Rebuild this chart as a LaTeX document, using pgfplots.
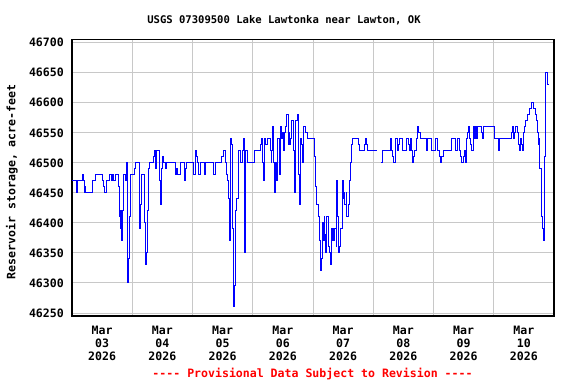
\documentclass[border=0pt]{standalone}
\usepackage{fontspec}
\newfontfamily\mono{DejaVu Sans Mono}
\usepackage{pgfplots}
\pgfplotsset{compat=1.18}
\definecolor{gridgray}{RGB}{200,200,200}
\definecolor{lineblue}{RGB}{0,0,255}
\definecolor{provred}{RGB}{255,0,0}
\newcommand{\lblfont}{\mono\bfseries\fontsize{11.6}{12.85}\selectfont}
\begin{document}
\begin{tikzpicture}[x=1bp,y=1bp]
\useasboundingbox (0,0) rectangle (576,384);
\begin{axis}[
  at={(72bp,68bp)}, anchor=south west,
  scale only axis, width=482bp, height=276.7bp,
  xmin=0, xmax=8, ymin=46245, ymax=46705.7,
  scaled y ticks=false, scaled x ticks=false,
  xtick={0.5,1.5,...,7.5},
  xticklabels={{Mar\\03\\2026},{Mar\\04\\2026},{Mar\\05\\2026},{Mar\\06\\2026},{Mar\\07\\2026},{Mar\\08\\2026},{Mar\\09\\2026},{Mar\\10\\2026}},
  minor xtick={1,2,...,7},
  xminorgrids=true, xmajorgrids=false,
  ytick={46250,46300,46350,46400,46450,46500,46550,46600,46650,46700},
  yticklabels={46250,46300,46350,46400,46450,46500,46550,46600,46650,46700},
  ymajorgrids=true,
  major tick length=0pt, minor tick length=0pt,
  tick style={draw=none},
  grid style={gridgray, line width=1bp},
  minor grid style={gridgray, line width=1bp},
  major grid style={gridgray, line width=1bp},
  axis line style={black, line width=1.5bp},
  xticklabel style={font=\lblfont, align=center, inner sep=0pt, anchor=north, yshift=-10bp},
  yticklabel style={font=\lblfont, inner sep=0pt, anchor=east, xshift=-8bp},
  ylabel={Reservoir storage, acre-feet},
  ylabel style={font=\lblfont, at={(rel axis cs:-0.125,0.485)}, anchor=center, inner sep=0pt},
]
\addplot[const plot, lineblue, line width=1bp] coordinates {
(0,46470) (0.078,46450) (0.090,46470) (0.177,46480) (0.195,46470) (0.205,46450)
(0.222,46460) (0.230,46450) (0.343,46470) (0.398,46480) (0.498,46470) (0.525,46460)
(0.547,46450) (0.575,46470) (0.630,46480) (0.658,46470) (0.675,46480) (0.692,46470)
(0.719,46480) (0.774,46460) (0.785,46410) (0.797,46390) (0.807,46420) (0.824,46370)
(0.835,46420) (0.851,46480) (0.890,46470) (0.907,46500) (0.924,46300) (0.945,46340)
(0.962,46410) (0.974,46480) (1.045,46490) (1.062,46500) (1.112,46440) (1.122,46390)
(1.134,46430) (1.150,46480) (1.205,46400) (1.216,46330) (1.233,46350) (1.250,46420)
(1.272,46490) (1.294,46500) (1.360,46510) (1.371,46520) (1.382,46500) (1.393,46490)
(1.405,46520) (1.460,46470) (1.471,46430) (1.488,46490) (1.505,46510) (1.526,46500)
(1.548,46490) (1.575,46500) (1.725,46480) (1.742,46490) (1.759,46480) (1.803,46500)
(1.864,46470) (1.886,46490) (1.902,46500) (2.024,46480) (2.046,46520) (2.063,46510)
(2.079,46500) (2.101,46480) (2.134,46500) (2.201,46480) (2.223,46500) (2.356,46480)
(2.378,46500) (2.477,46510) (2.510,46520) (2.555,46500) (2.571,46480) (2.588,46470)
(2.599,46440) (2.621,46370) (2.632,46540) (2.648,46530) (2.660,46390) (2.676,46260)
(2.693,46295) (2.709,46420) (2.731,46440) (2.770,46520) (2.792,46500) (2.825,46520)
(2.847,46540) (2.864,46350) (2.880,46520) (2.920,46500) (3.030,46520) (3.125,46530)
(3.141,46540) (3.158,46500) (3.174,46470) (3.190,46540) (3.218,46530) (3.240,46540)
(3.296,46520) (3.307,46500) (3.318,46520) (3.329,46560) (3.345,46500) (3.367,46450)
(3.379,46500) (3.390,46470) (3.406,46540) (3.440,46500) (3.451,46480) (3.467,46560)
(3.484,46540) (3.500,46550) (3.517,46520) (3.533,46550) (3.550,46560) (3.561,46580)
(3.588,46530) (3.605,46550) (3.616,46530) (3.627,46540) (3.650,46570) (3.672,46520)
(3.689,46480) (3.700,46450) (3.716,46570) (3.744,46580) (3.766,46480) (3.777,46430)
(3.793,46540) (3.810,46530) (3.821,46500) (3.837,46560) (3.882,46550) (3.904,46540)
(4.031,46510) (4.045,46460) (4.059,46430) (4.092,46410) (4.108,46370) (4.130,46320)
(4.147,46340) (4.158,46400) (4.174,46370) (4.186,46410) (4.197,46380) (4.213,46350)
(4.230,46410) (4.252,46380) (4.263,46360) (4.279,46350) (4.290,46330) (4.302,46390)
(4.313,46370) (4.324,46390) (4.335,46370) (4.352,46390) (4.385,46360) (4.398,46470)
(4.410,46410) (4.420,46350) (4.434,46360) (4.462,46390) (4.484,46470) (4.506,46440)
(4.520,46450) (4.531,46430) (4.550,46450) (4.564,46410) (4.588,46430) (4.606,46470)
(4.628,46500) (4.640,46530) (4.655,46540) (4.756,46530) (4.770,46520) (4.850,46530)
(4.871,46540) (4.893,46530) (4.910,46520) (5.066,46520)
};
\addplot[const plot, lineblue, line width=1bp] coordinates {
(5.130,46500) (5.160,46520) (5.288,46540) (5.305,46520) (5.321,46510) (5.340,46500)
(5.370,46540) (5.405,46520) (5.420,46530) (5.440,46540) (5.483,46520) (5.553,46540)
(5.586,46530) (5.602,46520) (5.619,46540) (5.636,46520) (5.658,46500) (5.674,46510)
(5.685,46520) (5.718,46540) (5.738,46560) (5.751,46550) (5.785,46540) (5.884,46520)
(5.906,46540) (5.962,46520) (6.039,46540) (6.061,46520) (6.100,46510) (6.116,46500)
(6.138,46510) (6.160,46520) (6.293,46540) (6.370,46520) (6.392,46540) (6.437,46520)
(6.453,46510) (6.470,46500) (6.492,46510) (6.514,46520) (6.536,46500) (6.553,46540)
(6.569,46550) (6.580,46560) (6.602,46540) (6.619,46530) (6.635,46520) (6.657,46560)
(6.674,46540) (6.691,46560) (6.707,46540) (6.724,46560) (6.801,46550) (6.812,46540)
(6.823,46560) (7.011,46540) (7.078,46520) (7.094,46540) (7.299,46550) (7.310,46560)
(7.321,46540) (7.343,46550) (7.366,46560) (7.388,46550) (7.410,46530) (7.432,46520)
(7.449,46540) (7.465,46530) (7.476,46520) (7.487,46540) (7.498,46550) (7.509,46560)
(7.531,46570) (7.553,46580) (7.598,46590) (7.631,46600) (7.664,46590) (7.686,46580)
(7.708,46570) (7.730,46550) (7.741,46530) (7.752,46540) (7.763,46490) (7.785,46410)
(7.807,46390) (7.818,46380) (7.829,46370) (7.846,46510) (7.857,46650) (7.884,46640)
(7.895,46630) (7.906,46630)
};
\end{axis}
\node[font=\mono\bfseries\fontsize{10.6}{12}\selectfont, inner sep=0pt] at (284,364) {USGS 07309500 Lake Lawtonka near Lawton, OK};
\node[font=\lblfont, text=provred, inner sep=0pt] at (312.5,9.7) {---- Provisional Data Subject to Revision ----};
\end{tikzpicture}
\end{document}
